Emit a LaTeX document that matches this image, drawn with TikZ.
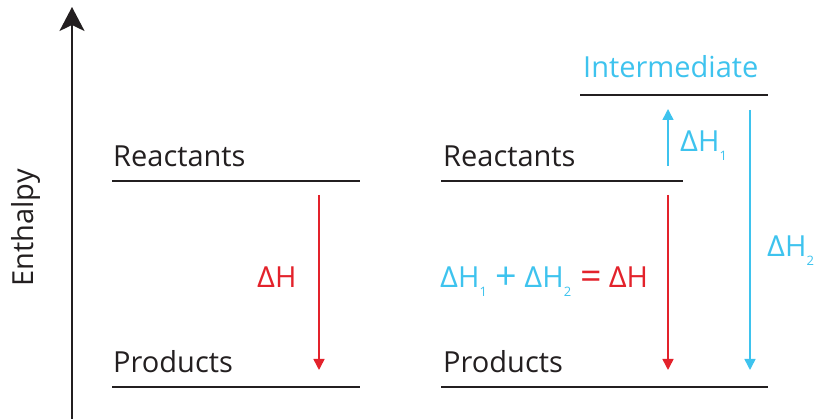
\documentclass[tikz,border=0pt]{standalone}
\usepackage{fontspec}
\setmainfont{Open Sans}
\usetikzlibrary{arrows.meta}
\definecolor{ink}{HTML}{231F20}
\definecolor{rd}{HTML}{E3222B}
\definecolor{cy}{HTML}{3EC3EE}
\newcommand{\sbx}[1]{\raisebox{-0.28em}{\fontsize{13}{13}\selectfont #1}}
\newcommand{\bigop}[1]{\raisebox{-1.5pt}{\scalebox{1.3}{#1}}}
\tikzset{
  lbl/.style={inner sep=0pt, anchor=base west, font=\fontsize{29}{29}\selectfont, text=ink},
  level/.style={draw=ink, line width=2.6pt},
  rarr/.style={draw=rd, line width=1.5pt, -{Triangle[length=11pt,width=11pt]}},
  carr/.style={draw=cy, line width=1.5pt, -{Triangle[length=11pt,width=11pt]}},
}
\begin{document}
\begin{tikzpicture}[x=1pt,y=-1pt]
\useasboundingbox (0,0) rectangle (817,419);
% axis
\coordinate (axb) at (72,419);
\coordinate (axt) at (72,7);
\draw[ink, line width=2pt, -{Stealth[length=24pt,width=25pt,inset=6pt]}] (axb) -- (axt);
\node[lbl, anchor=base, rotate=90] (enth) at (33,228) {Enthalpy};
% left levels
\coordinate (lr1) at (112,181); \coordinate (lr2) at (360,181);
\coordinate (lp1) at (112,387); \coordinate (lp2) at (360,387);
\draw[level] (lr1) -- (lr2);
\draw[level] (lp1) -- (lp2);
\node[lbl] (lreact) at (113,167) {Reactants};
\node[lbl] (lprod) at (113,373) {Products};
\coordinate (la1) at (319,195); \coordinate (la2) at (319,370);
\draw[rarr] (la1) -- (la2);
\node[lbl, text=rd] (ldh) at (257,288) {\scalebox{1.08}[1]{Δ}H};
% right levels
\coordinate (rr1) at (441,181); \coordinate (rr2) at (683,181);
\coordinate (rp1) at (441,387); \coordinate (rp2) at (768,387);
\coordinate (ri1) at (580,95); \coordinate (ri2) at (768,95);
\draw[level] (rr1) -- (rr2);
\draw[level] (rp1) -- (rp2);
\draw[level] (ri1) -- (ri2);
\node[lbl] (rreact) at (443,167) {Reactants};
\node[lbl] (rprod) at (443,373) {Products};
\node[lbl, text=cy] (inter) at (583,78) {Intermediate};
\coordinate (ra1) at (668,195); \coordinate (ra2) at (668,370);
\draw[rarr] (ra1) -- (ra2);
\coordinate (c1a) at (668,166); \coordinate (c1b) at (668,109);
\draw[carr] (c1a) -- (c1b);
\coordinate (c2a) at (750,110); \coordinate (c2b) at (750,370);
\draw[carr] (c2a) -- (c2b);
\node[lbl, text=cy] (dh1) at (680,152) {\scalebox{1.08}[1]{Δ}H\sbx{1}};
\node[lbl, text=cy] (dh2) at (767,257) {\scalebox{1.08}[1]{Δ}H\sbx{2}};
\node[lbl, text=cy] (eq) at (440,288) {\scalebox{1.08}[1]{Δ}H\sbx{1}\hspace{9pt}\bigop{+}\hspace{7pt}\scalebox{1.08}[1]{Δ}H\sbx{2}\hspace{9pt}\textcolor{rd}{\bigop{=}\hspace{7pt}\scalebox{1.08}[1]{Δ}H}};
\end{tikzpicture}
\end{document}
